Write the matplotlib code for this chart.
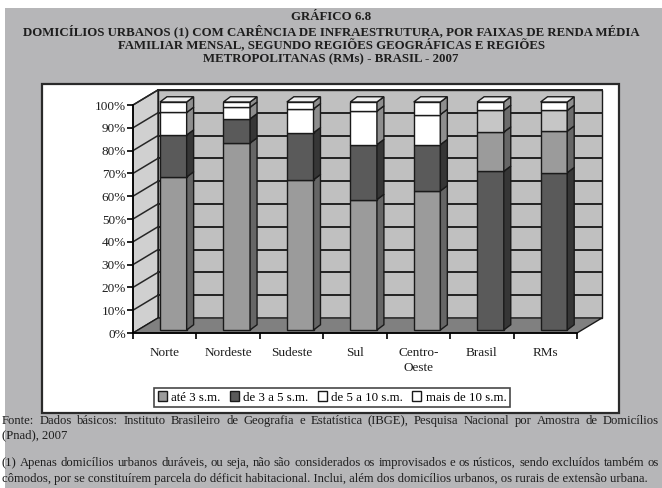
import matplotlib.pyplot as plt
from matplotlib.patches import Rectangle, Polygon, Patch
import numpy as np

plt.rcParams['font.family'] = ['Liberation Serif', 'DejaVu Serif']

# dados (%)
categorias = ['Norte', 'Nordeste', 'Sudeste', 'Sul', 'Centro-\nOeste', 'Brasil', 'RMs']
ate_3 = [67.1, 82.0, 65.9, 57.2, 61.0, 69.6, 69.0]
de_3_a_5 = [18.4, 10.6, 20.6, 24.1, 20.3, 17.2, 18.2]
de_5_a_10 = [9.9, 5.1, 10.5, 14.7, 13.2, 9.5, 9.1]
mais_de_10 = [4.6, 2.3, 3.0, 4.0, 5.5, 3.7, 3.7]
faixas = ['até 3 s.m.', 'de 3 a 5 s.m.', 'de 5 a 10 s.m.', 'mais de 10 s.m.']

titulo = ['GRÁFICO 6.8',
          'DOMICÍLIOS URBANOS (1) COM CARÊNCIA DE INFRAESTRUTURA, POR FAIXAS DE RENDA MÉDIA',
          'FAMILIAR MENSAL, SEGUNDO REGIÕES GEOGRÁFICAS E REGIÕES',
          'METROPOLITANAS (RMs) - BRASIL - 2007']
notas = ['Fonte: Dados básicos: Instituto Brasileiro de Geografia e Estatística (IBGE), Pesquisa Nacional por Amostra de Domicílios',
         '(Pnad), 2007',
         '(1) Apenas domicílios urbanos duráveis, ou seja, não são considerados os improvisados e os rústicos, sendo excluídos também os',
         'cômodos, por se constituírem parcela do déficit habitacional. Inclui, além dos domicílios urbanos, os rurais de extensão urbana.']
justificar = [True, False, True, False]

W, H = 662, 488
fig = plt.figure(figsize=(W / 100, H / 100), dpi=100)


def fx(x):
    return x / W


def fy(y):
    return 1 - y / H


# fundo cinza da página e caixa branca do gráfico
fig.patches.append(Rectangle((fx(5), 0), 1, fy(8), transform=fig.transFigure,
                             facecolor='#b6b6b8', edgecolor='none', zorder=-3))
fig.patches.append(Rectangle((fx(42), fy(413)), fx(619) - fx(42), fy(84) - fy(413),
                             transform=fig.transFigure, facecolor='white',
                             edgecolor='#2a2a2a', lw=1.6, zorder=-2))

for linha, yy in zip(titulo, [17, 31, 45, 59]):
    fig.text(fx(331), fy(yy), linha, ha='center', va='center', fontsize=9.3,
             fontweight='bold', color='#1e1e1e')

# notas de rodapé (texto justificado como no original)
renderer = fig.canvas.get_renderer()
y_notas = [421, 435, 463, 479]
for linha, yy, just in zip(notas, y_notas, justificar):
    if not just:
        fig.text(fx(2), fy(yy), linha, ha='left', va='center', fontsize=9.1, color='#1e1e1e')
        continue
    palavras = linha.split(' ')
    objs = [fig.text(0, fy(yy), p, ha='left', va='center', fontsize=9.1, color='#1e1e1e')
            for p in palavras]
    larguras = [o.get_window_extent(renderer).width for o in objs]
    espaco = (659 - 2 - sum(larguras)) / (len(palavras) - 1)
    xpos = 2
    for o, lw_ in zip(objs, larguras):
        o.set_x(fx(xpos))
        xpos += lw_ + espaco

# eixo do gráfico: plano frontal
ax = fig.add_axes([fx(133), fy(333), fx(577) - fx(133), fy(105) - fy(333)])
ax.set_xlim(0, 7)
ax.set_ylim(0, 100)
ax.patch.set_visible(False)

DX, DY = 0.394, 6.6  # profundidade das paredes

chao = Polygon([(0, 0), (7, 0), (7 + DX, DY), (DX, DY)], closed=True,
               facecolor='#808080', edgecolor='#1a1a1a', lw=1, clip_on=False, zorder=1)
parede_esq = Polygon([(0, 0), (DX, DY), (DX, 100 + DY), (0, 100)], closed=True,
                     facecolor='#d0d0d0', edgecolor='#1a1a1a', lw=1, clip_on=False, zorder=1)
parede_fundo = Polygon([(DX, DY), (7 + DX, DY), (7 + DX, 100 + DY), (DX, 100 + DY)],
                       closed=True, facecolor='#c0c0c0', edgecolor='#1a1a1a', lw=1,
                       clip_on=False, zorder=1)
for p in (parede_fundo, parede_esq, chao):
    ax.add_patch(p)

for v in range(10, 101, 10):
    ax.plot([DX, 7 + DX], [v + DY, v + DY], color='#222222', lw=1.4, clip_on=False, zorder=2)
    ax.plot([0, DX], [v, v + DY], color='#262626', lw=1.1, clip_on=False, zorder=2)

# cores por barra (frente, lateral)
cinza = ('#9b9b9b', '#666666')
escuro = ('#5a5a5a', '#363636')
branco = ('#ffffff', '#8e8e8e')
claro = ('#c6c6c6', '#6c6c6c')
paleta_regioes = [cinza, escuro, branco, branco]
paleta_brasil = [escuro, cinza, claro, branco]

series = np.array([ate_3, de_3_a_5, de_5_a_10, mais_de_10])
base = np.vstack([np.zeros(len(categorias)), np.cumsum(series, axis=0)[:-1]])

t0 = 0.2
bw = 0.42
bdx, bdy = 0.11, 2.3
for i, cat in enumerate(categorias):
    x0 = i + 0.347 + t0 * DX
    y0 = t0 * DY
    paleta = paleta_brasil if cat in ('Brasil', 'RMs') else paleta_regioes
    for s in range(series.shape[0]):
        lo, hi = base[s, i], base[s, i] + series[s, i]
        frente, lado = paleta[s]
        ax.add_patch(Rectangle((x0, y0 + lo), bw, hi - lo, facecolor=frente,
                               edgecolor='#1a1a1a', lw=1, clip_on=False, zorder=5))
        ax.add_patch(Polygon([(x0 + bw, y0 + lo), (x0 + bw + bdx, y0 + lo + bdy),
                              (x0 + bw + bdx, y0 + hi + bdy), (x0 + bw, y0 + hi)],
                             closed=True, facecolor=lado, edgecolor='#1a1a1a', lw=1,
                             clip_on=False, zorder=5))
    topo = base[-1, i] + series[-1, i]
    ax.add_patch(Polygon([(x0, y0 + topo), (x0 + bw, y0 + topo),
                          (x0 + bw + bdx, y0 + topo + bdy), (x0 + bdx, y0 + topo + bdy)],
                         closed=True, facecolor='#ededed', edgecolor='#1a1a1a', lw=1,
                         clip_on=False, zorder=5))

for lado in ('top', 'right'):
    ax.spines[lado].set_visible(False)
ax.spines['left'].set_linewidth(1.2)
ax.spines['bottom'].set_linewidth(1.2)
ax.spines['left'].set_zorder(6)
ax.spines['bottom'].set_zorder(6)

ax.set_yticks(range(0, 101, 10))
ax.set_yticklabels([f'{v}%' for v in range(0, 101, 10)], fontsize=9.5, color='#1e1e1e')
ax.tick_params(axis='y', length=4, width=1.2, pad=1)
ax.set_xticks(range(8))
ax.set_xticklabels([])
ax.set_xticks(np.arange(7) + 0.5, minor=True)
ax.set_xticklabels(categorias, minor=True, fontsize=9.5, color='#1e1e1e', linespacing=1.3)
ax.tick_params(axis='x', which='major', length=4, width=1.2)
ax.tick_params(axis='x', which='minor', length=0, pad=10)

handles = [Patch(facecolor=c[0], edgecolor='#1a1a1a', lw=1, label=f)
           for c, f in zip(paleta_regioes, faixas)]
leg = fig.legend(handles=handles, loc='center', bbox_to_anchor=(fx(332), fy(397.5)),
                 ncol=4, fontsize=9.3, frameon=True, fancybox=False, edgecolor='#1a1a1a',
                 handlelength=0.7, handleheight=0.7, handletextpad=0.35,
                 columnspacing=0.7, borderpad=0.3, borderaxespad=0)
leg.get_frame().set_linewidth(1.2)

fig.savefig('out.png', dpi=100)
